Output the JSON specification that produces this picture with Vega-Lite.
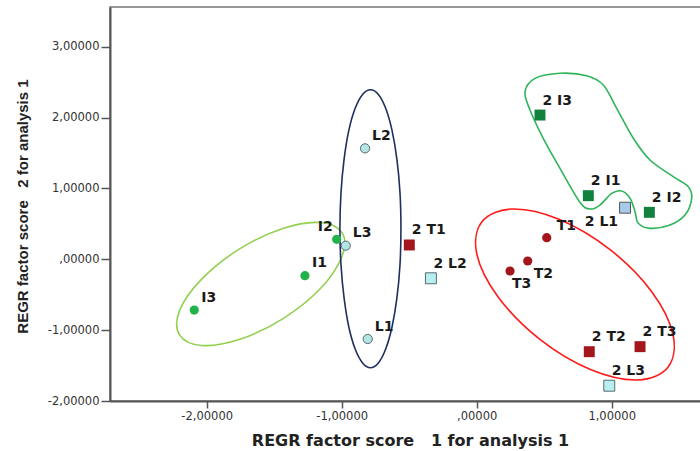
{
  "$schema": "https://vega.github.io/schema/vega-lite/v6.json",
  "width": 592,
  "height": 394,
  "autosize": {"type": "none"},
  "padding": {"left": 110, "top": 7, "right": 0, "bottom": 50},
  "background": "white",
  "config": {
    "view": {"stroke": "#777", "strokeWidth": 1.5},
    "axis": {
      "grid": false,
      "domainColor": "#555",
      "domainWidth": 2,
      "tickColor": "#555",
      "tickWidth": 1.5,
      "labelFont": "DejaVu Sans",
      "labelFontSize": 11.5,
      "labelColor": "#333",
      "titleFont": "DejaVu Sans",
      "titleFontSize": 16,
      "titleFontWeight": "bold",
      "titleColor": "#222"
    }
  },
  "datasets": {
    "points": [
      {"name": "I3", "grp": "I", "x": -2.092, "y": -0.716},
      {"name": "I1", "grp": "I", "x": -1.272, "y": -0.231},
      {"name": "I2", "grp": "I", "x": -1.037, "y": 0.282},
      {"name": "L3", "grp": "L", "x": -0.970, "y": 0.192},
      {"name": "L2", "grp": "L", "x": -0.827, "y": 1.566},
      {"name": "L1", "grp": "L", "x": -0.807, "y": -1.125},
      {"name": "T1", "grp": "T", "x": 0.519, "y": 0.305},
      {"name": "T2", "grp": "T", "x": 0.378, "y": -0.024},
      {"name": "T3", "grp": "T", "x": 0.247, "y": -0.165},
      {"name": "2 T1", "grp": "2T", "x": -0.499, "y": 0.202},
      {"name": "2 L2", "grp": "2L", "x": -0.339, "y": -0.268},
      {"name": "2 T2", "grp": "2T", "x": 0.834, "y": -1.304},
      {"name": "2 T3", "grp": "2T", "x": 1.210, "y": -1.233},
      {"name": "2 L3", "grp": "2L", "x": 0.982, "y": -1.784},
      {"name": "2 I3", "grp": "2I", "x": 0.469, "y": 2.036},
      {"name": "2 I1", "grp": "2I", "x": 0.827, "y": 0.898},
      {"name": "2 L1", "grp": "2L1", "x": 1.099, "y": 0.728},
      {"name": "2 I2", "grp": "2I", "x": 1.279, "y": 0.663}
    ],
    "outlines": [
      {"ring": "A", "ord": 1, "x": -0.995, "y": 0.370},
      {"ring": "A", "ord": 2, "x": -0.998, "y": 0.040},
      {"ring": "A", "ord": 3, "x": -1.157, "y": -0.413},
      {"ring": "A", "ord": 4, "x": -1.437, "y": -0.840},
      {"ring": "A", "ord": 5, "x": -1.760, "y": -1.133},
      {"ring": "A", "ord": 6, "x": -2.039, "y": -1.216},
      {"ring": "A", "ord": 7, "x": -2.201, "y": -1.067},
      {"ring": "A", "ord": 8, "x": -2.201, "y": -0.725},
      {"ring": "A", "ord": 9, "x": -2.039, "y": -0.284},
      {"ring": "A", "ord": 10, "x": -1.759, "y": 0.143},
      {"ring": "A", "ord": 11, "x": -1.436, "y": 0.436},
      {"ring": "A", "ord": 12, "x": -1.156, "y": 0.519},

      {"ring": "B", "ord": 1, "x": -0.787, "y": 2.393},
      {"ring": "B", "ord": 2, "x": -0.728, "y": 2.327},
      {"ring": "B", "ord": 3, "x": -0.674, "y": 2.131},
      {"ring": "B", "ord": 4, "x": -0.627, "y": 1.819},
      {"ring": "B", "ord": 5, "x": -0.591, "y": 1.413},
      {"ring": "B", "ord": 6, "x": -0.568, "y": 0.940},
      {"ring": "B", "ord": 7, "x": -0.561, "y": 0.432},
      {"ring": "B", "ord": 8, "x": -0.568, "y": -0.076},
      {"ring": "B", "ord": 9, "x": -0.591, "y": -0.549},
      {"ring": "B", "ord": 10, "x": -0.627, "y": -0.955},
      {"ring": "B", "ord": 11, "x": -0.674, "y": -1.267},
      {"ring": "B", "ord": 12, "x": -0.728, "y": -1.463},
      {"ring": "B", "ord": 13, "x": -0.787, "y": -1.530},
      {"ring": "B", "ord": 14, "x": -0.845, "y": -1.463},
      {"ring": "B", "ord": 15, "x": -0.900, "y": -1.267},
      {"ring": "B", "ord": 16, "x": -0.947, "y": -0.955},
      {"ring": "B", "ord": 17, "x": -0.982, "y": -0.549},
      {"ring": "B", "ord": 18, "x": -1.005, "y": -0.076},
      {"ring": "B", "ord": 19, "x": -1.013, "y": 0.432},
      {"ring": "B", "ord": 20, "x": -1.005, "y": 0.940},
      {"ring": "B", "ord": 21, "x": -0.982, "y": 1.413},
      {"ring": "B", "ord": 22, "x": -0.947, "y": 1.819},
      {"ring": "B", "ord": 23, "x": -0.900, "y": 2.131},
      {"ring": "B", "ord": 24, "x": -0.845, "y": 2.327},

      {"ring": "C", "ord": 1, "x": 1.417, "y": -1.523},
      {"ring": "C", "ord": 2, "x": 1.194, "y": -1.703},
      {"ring": "C", "ord": 3, "x": 0.847, "y": -1.559},
      {"ring": "C", "ord": 4, "x": 0.468, "y": -1.130},
      {"ring": "C", "ord": 5, "x": 0.159, "y": -0.532},
      {"ring": "C", "ord": 6, "x": 0.001, "y": 0.075},
      {"ring": "C", "ord": 7, "x": 0.039, "y": 0.529},
      {"ring": "C", "ord": 8, "x": 0.262, "y": 0.710},
      {"ring": "C", "ord": 9, "x": 0.609, "y": 0.566},
      {"ring": "C", "ord": 10, "x": 0.988, "y": 0.137},
      {"ring": "C", "ord": 11, "x": 1.298, "y": -0.461},
      {"ring": "C", "ord": 12, "x": 1.455, "y": -1.068},

      {"ring": "D", "ord": 1, "x": 0.358, "y": 2.365},
      {"ring": "D", "ord": 2, "x": 0.432, "y": 2.554},
      {"ring": "D", "ord": 3, "x": 0.617, "y": 2.625},
      {"ring": "D", "ord": 4, "x": 0.815, "y": 2.591},
      {"ring": "D", "ord": 5, "x": 0.938, "y": 2.460},
      {"ring": "D", "ord": 6, "x": 1.037, "y": 2.131},
      {"ring": "D", "ord": 7, "x": 1.160, "y": 1.708},
      {"ring": "D", "ord": 8, "x": 1.284, "y": 1.401},
      {"ring": "D", "ord": 9, "x": 1.456, "y": 1.166},
      {"ring": "D", "ord": 10, "x": 1.567, "y": 1.025},
      {"ring": "D", "ord": 11, "x": 1.593, "y": 0.861},
      {"ring": "D", "ord": 12, "x": 1.543, "y": 0.625},
      {"ring": "D", "ord": 13, "x": 1.432, "y": 0.484},
      {"ring": "D", "ord": 14, "x": 1.284, "y": 0.437},
      {"ring": "D", "ord": 15, "x": 1.197, "y": 0.508},
      {"ring": "D", "ord": 16, "x": 1.173, "y": 0.672},
      {"ring": "D", "ord": 17, "x": 1.136, "y": 0.861},
      {"ring": "D", "ord": 18, "x": 1.074, "y": 0.964},
      {"ring": "D", "ord": 19, "x": 1.000, "y": 0.931},
      {"ring": "D", "ord": 20, "x": 0.913, "y": 0.766},
      {"ring": "D", "ord": 21, "x": 0.839, "y": 0.710},
      {"ring": "D", "ord": 22, "x": 0.765, "y": 0.804},
      {"ring": "D", "ord": 23, "x": 0.617, "y": 1.284},
      {"ring": "D", "ord": 24, "x": 0.493, "y": 1.708},
      {"ring": "D", "ord": 25, "x": 0.395, "y": 2.107}
    ]
  },
  "encoding": {
    "x": {
      "field": "x",
      "type": "quantitative",
      "scale": {"domain": [-2.716, 1.669], "nice": false, "zero": false},
      "axis": {
        "values": [-2, -1, 0, 1],
        "labelExpr": "datum.value == 0 ? ',00000' : (datum.value < 0 ? '-' : '') + abs(datum.value) + ',00000'",
        "title": "REGR factor score \u00a0 1 for analysis 1",
        "tickSize": 7,
        "labelPadding": 2,
        "titleX": 300,
        "titleY": 44,
        "titleBaseline": "alphabetic"
      }
    },
    "y": {
      "field": "y",
      "type": "quantitative",
      "scale": {"domain": [-2, 3.561], "nice": false, "zero": false},
      "axis": {
        "values": [-2, -1, 0, 1, 2, 3],
        "labelExpr": "datum.value == 0 ? ',00000' : (datum.value < 0 ? '-' : '') + abs(datum.value) + ',00000'",
        "title": "REGR factor score \u00a0 2 for analysis 1",
        "tickSize": 9,
        "labelPadding": 2,
        "titleX": -88,
        "titleY": 199,
        "titleAngle": -90,
        "titleBaseline": "middle",
        "titleFont": "Liberation Sans",
        "titleFontSize": 15
      }
    }
  },
  "layer": [
    {
      "data": {"name": "outlines"},
      "mark": {"type": "line", "interpolate": "cardinal-closed", "strokeWidth": 1.6},
      "encoding": {
        "color": {
          "field": "ring",
          "type": "nominal",
          "scale": {"domain": ["A", "B", "C", "D"], "range": ["#92d050", "#1f3060", "#ff1a1a", "#2fb45a"]},
          "legend": null
        },
        "order": {"field": "ord", "type": "quantitative"}
      }
    },
    {
      "data": {"name": "points"},
      "transform": [{"filter": {"field": "grp", "oneOf": ["I", "L", "T"]}}],
      "mark": {"type": "point", "shape": "circle", "filled": true, "opacity": 1, "size": 85, "strokeWidth": 1},
      "encoding": {
        "fill": {
          "field": "grp",
          "type": "nominal",
          "scale": {"domain": ["I", "L", "T", "2I", "2L", "2L1", "2T"], "range": ["#21b24b", "#b2e6e4", "#a3161b", "#11813d", "#b7eef2", "#a8cbea", "#a3161b"]},
          "legend": null
        },
        "stroke": {
          "field": "grp",
          "type": "nominal",
          "scale": {"domain": ["I", "L", "T", "2I", "2L", "2L1", "2T"], "range": ["transparent", "#5a6a6a", "transparent", "transparent", "#5a6a6a", "#555555", "transparent"]},
          "legend": null
        }
      }
    },
    {
      "data": {"name": "points"},
      "transform": [{"filter": {"field": "grp", "oneOf": ["2I", "2L", "2L1", "2T"]}}],
      "mark": {"type": "point", "shape": "square", "filled": true, "opacity": 1, "size": 120, "strokeWidth": 1},
      "encoding": {
        "fill": {"field": "grp", "type": "nominal", "legend": null},
        "stroke": {"field": "grp", "type": "nominal", "legend": null}
      }
    },
    {
      "data": {"name": "points"},
      "transform": [{"filter": {"field": "name", "oneOf": ["2 T1", "2 L2", "2 T2", "2 T3", "2 L3", "2 I3", "2 I1", "2 I2"]}}],
      "mark": {"type": "text", "align": "left", "baseline": "middle", "dx": 2.5, "dy": -14.5, "font": "DejaVu Sans", "fontSize": 14, "fontWeight": "bold", "color": "#1a1a1a"},
      "encoding": {"text": {"field": "name"}}
    },
    {
      "data": {"name": "points"},
      "transform": [{"filter": {"field": "name", "oneOf": ["I3", "I1", "L3", "L2", "L1"]}}],
      "mark": {"type": "text", "align": "left", "baseline": "middle", "dx": 7, "dy": -12.5, "font": "DejaVu Sans", "fontSize": 14, "fontWeight": "bold", "color": "#1a1a1a"},
      "encoding": {"text": {"field": "name"}}
    },
    {
      "data": {"name": "points"},
      "transform": [{"filter": {"field": "name", "oneOf": ["T1"]}}],
      "mark": {"type": "text", "align": "left", "baseline": "middle", "dx": 10, "dy": -12, "font": "DejaVu Sans", "fontSize": 14, "fontWeight": "bold", "color": "#1a1a1a"},
      "encoding": {"text": {"field": "name"}}
    },
    {
      "data": {"name": "points"},
      "transform": [{"filter": {"field": "name", "oneOf": ["I2"]}}],
      "mark": {"type": "text", "align": "right", "baseline": "middle", "dx": -4, "dy": -12.5, "font": "DejaVu Sans", "fontSize": 14, "fontWeight": "bold", "color": "#1a1a1a"},
      "encoding": {"text": {"field": "name"}}
    },
    {
      "data": {"name": "points"},
      "transform": [{"filter": {"field": "name", "oneOf": ["T2"]}}],
      "mark": {"type": "text", "align": "left", "baseline": "middle", "dx": 6, "dy": 13, "font": "DejaVu Sans", "fontSize": 14, "fontWeight": "bold", "color": "#1a1a1a"},
      "encoding": {"text": {"field": "name"}}
    },
    {
      "data": {"name": "points"},
      "transform": [{"filter": {"field": "name", "oneOf": ["T3"]}}],
      "mark": {"type": "text", "align": "left", "baseline": "middle", "dx": 2, "dy": 13.5, "font": "DejaVu Sans", "fontSize": 14, "fontWeight": "bold", "color": "#1a1a1a"},
      "encoding": {"text": {"field": "name"}}
    },
    {
      "data": {"name": "points"},
      "transform": [{"filter": {"field": "name", "oneOf": ["2 L1"]}}],
      "mark": {"type": "text", "align": "right", "baseline": "middle", "dx": -7, "dy": 14, "font": "DejaVu Sans", "fontSize": 14, "fontWeight": "bold", "color": "#1a1a1a"},
      "encoding": {"text": {"field": "name"}}
    }
  ]
}
